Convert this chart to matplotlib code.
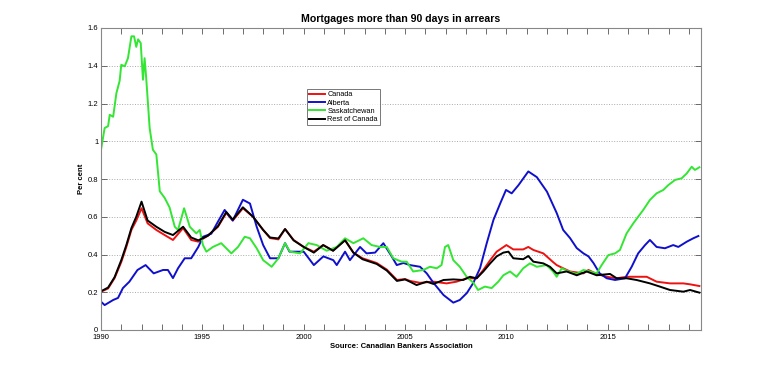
import matplotlib
matplotlib.use("Agg")
import matplotlib.pyplot as plt
import numpy as np

plt.rcParams['font.family'] = ['Liberation Sans', 'DejaVu Sans']

title = "Mortgages more than 90 days in arrears"
ylabel = "Per cent"
xlabel = "Source: Canadian Bankers Association"
series_names = ["Canada", "Alberta", "Saskatchewan", "Rest of Canada"]

canada_years = [1990.0, 1990.35, 1990.67, 1991.0, 1991.25, 1991.5, 1991.74, 1992.0, 1992.3, 1992.73,
                1993.14, 1993.55, 1994.05, 1994.45, 1994.8, 1995.28, 1995.77, 1996.18, 1996.5, 1997.0,
                1997.5, 1998.0, 1998.34, 1998.75, 1999.08, 1999.5, 2000.0, 2000.5, 2000.96, 2001.45,
                2002.04, 2002.45, 2002.9, 2003.6, 2004.1, 2004.6, 2005.0, 2005.24, 2005.74, 2006.4,
                2007.05, 2007.54, 2008.04, 2008.53, 2008.86, 2009.2, 2009.52, 2010.0, 2010.34, 2010.83,
                2011.08, 2011.33, 2011.82, 2012.3, 2012.48, 2012.8, 2013.14, 2013.8, 2014.05, 2014.45,
                2014.95, 2015.44, 2015.93, 2016.42, 2016.92, 2017.41, 2018.07, 2018.73, 2019.06, 2019.52]
canada_vals = [0.203, 0.22, 0.275, 0.36, 0.44, 0.53, 0.58, 0.645, 0.565, 0.53,
               0.503, 0.477, 0.54, 0.477, 0.468, 0.50, 0.547, 0.62, 0.58, 0.645,
               0.60, 0.53, 0.487, 0.48, 0.535, 0.477, 0.44, 0.415, 0.45, 0.42,
               0.477, 0.41, 0.38, 0.355, 0.32, 0.265, 0.27, 0.26, 0.25, 0.256,
               0.247, 0.256, 0.274, 0.274, 0.318, 0.37, 0.415, 0.45, 0.427, 0.427,
               0.44, 0.424, 0.406, 0.36, 0.344, 0.327, 0.31, 0.30, 0.318, 0.297,
               0.282, 0.274, 0.282, 0.282, 0.282, 0.256, 0.247, 0.247, 0.242, 0.233]

alberta_years = [1990.0, 1990.18, 1990.6, 1990.84, 1991.08, 1991.4, 1991.8, 1992.2, 1992.6, 1993.06,
                 1993.3, 1993.55, 1993.8, 1994.13, 1994.45, 1994.8, 1995.03, 1995.44, 1995.77, 1996.1,
                 1996.5, 1997.0, 1997.35, 1997.68, 1998.0, 1998.34, 1998.75, 1999.08, 1999.3, 2000.0,
                 2000.5, 2000.97, 2001.46, 2001.63, 2002.04, 2002.28, 2002.78, 2003.1, 2003.52, 2003.93,
                 2004.34, 2004.59, 2004.92, 2005.24, 2005.74, 2006.07, 2006.4, 2006.9, 2007.38, 2007.7,
                 2008.05, 2008.37, 2008.7, 2009.03, 2009.36, 2009.7, 2009.98, 2010.26, 2010.6, 2011.08,
                 2011.5, 2012.0, 2012.48, 2012.8, 2013.14, 2013.47, 2013.8, 2014.05, 2014.3, 2014.6,
                 2014.95, 2015.36, 2015.85, 2016.18, 2016.5, 2016.84, 2017.08, 2017.41, 2017.82, 2018.23,
                 2018.48, 2018.9, 2019.22, 2019.47]
alberta_vals = [0.15, 0.132, 0.159, 0.17, 0.222, 0.256, 0.318, 0.344, 0.30, 0.318,
                0.318, 0.275, 0.327, 0.38, 0.38, 0.44, 0.494, 0.51, 0.574, 0.636,
                0.58, 0.69, 0.67, 0.547, 0.45, 0.38, 0.38, 0.46, 0.415, 0.415,
                0.344, 0.39, 0.37, 0.344, 0.415, 0.37, 0.44, 0.406, 0.41, 0.46,
                0.39, 0.344, 0.355, 0.344, 0.335, 0.30, 0.25, 0.185, 0.145, 0.159,
                0.196, 0.25, 0.328, 0.46, 0.583, 0.672, 0.742, 0.724, 0.768, 0.84,
                0.81, 0.733, 0.62, 0.53, 0.487, 0.434, 0.406, 0.39, 0.354, 0.30,
                0.274, 0.265, 0.274, 0.335, 0.406, 0.45, 0.477, 0.44, 0.433, 0.45,
                0.44, 0.468, 0.486, 0.498]

sask_years = [1990.0, 1990.18, 1990.35, 1990.43, 1990.6, 1990.76, 1990.92, 1991.0, 1991.17, 1991.33,
              1991.5, 1991.63, 1991.74, 1991.83, 1991.96, 1992.07, 1992.15, 1992.23, 1992.4, 1992.56,
              1992.73, 1992.9, 1993.14, 1993.38, 1993.64, 1993.8, 1994.1, 1994.38, 1994.7, 1994.87,
              1995.03, 1995.2, 1995.52, 1995.93, 1996.18, 1996.43, 1996.76, 1997.09, 1997.35, 1997.68,
              1998.0, 1998.42, 1998.75, 1999.08, 1999.32, 1999.82, 2000.23, 2000.64, 2001.13, 2001.63,
              2002.04, 2002.45, 2002.94, 2003.35, 2003.76, 2004.1, 2004.42, 2004.83, 2005.08, 2005.4,
              2005.9, 2006.23, 2006.56, 2006.8, 2006.97, 2007.13, 2007.38, 2007.7, 2008.04, 2008.37,
              2008.6, 2008.94, 2009.27, 2009.6, 2009.85, 2010.18, 2010.5, 2010.83, 2011.16, 2011.5,
              2011.98, 2012.3, 2012.48, 2012.73, 2013.06, 2013.47, 2013.8, 2014.12, 2014.45, 2014.7,
              2015.03, 2015.36, 2015.6, 2015.93, 2016.26, 2016.5, 2016.75, 2017.08, 2017.41, 2017.74,
              2017.99, 2018.32, 2018.65, 2018.9, 2019.14, 2019.3, 2019.52]
sask_vals = [0.955, 1.07, 1.08, 1.14, 1.13, 1.255, 1.32, 1.405, 1.397, 1.44,
             1.556, 1.556, 1.50, 1.54, 1.52, 1.326, 1.44, 1.335, 1.07, 0.955,
             0.93, 0.735, 0.70, 0.65, 0.547, 0.53, 0.645, 0.547, 0.512, 0.53,
             0.45, 0.415, 0.44, 0.46, 0.433, 0.406, 0.44, 0.494, 0.486, 0.433,
             0.37, 0.335, 0.38, 0.46, 0.415, 0.406, 0.46, 0.45, 0.42, 0.44,
             0.486, 0.46, 0.486, 0.45, 0.44, 0.44, 0.38, 0.362, 0.362, 0.31,
             0.318, 0.335, 0.327, 0.344, 0.44, 0.45, 0.37, 0.335, 0.282, 0.25,
             0.212, 0.23, 0.222, 0.256, 0.29, 0.31, 0.282, 0.327, 0.353, 0.335,
             0.344, 0.31, 0.282, 0.327, 0.31, 0.297, 0.318, 0.31, 0.30, 0.344,
             0.397, 0.406, 0.424, 0.512, 0.565, 0.60, 0.636, 0.689, 0.724, 0.742,
             0.768, 0.795, 0.804, 0.83, 0.865, 0.848, 0.862]

rest_years = [1990.0, 1990.35, 1990.67, 1991.0, 1991.25, 1991.5, 1991.74, 1992.0, 1992.3, 1992.73,
              1993.14, 1993.55, 1994.05, 1994.45, 1994.8, 1995.28, 1995.77, 1996.18, 1996.5, 1997.0,
              1997.5, 1998.0, 1998.34, 1998.75, 1999.08, 1999.5, 2000.0, 2000.5, 2000.96, 2001.45,
              2002.04, 2002.45, 2002.9, 2003.6, 2004.1, 2004.6, 2005.0, 2005.24, 2005.57, 2006.07,
              2006.4, 2006.9, 2007.38, 2007.87, 2008.2, 2008.53, 2008.86, 2009.2, 2009.52, 2009.85,
              2010.1, 2010.34, 2010.83, 2011.08, 2011.33, 2011.82, 2012.15, 2012.48, 2012.97, 2013.47,
              2013.96, 2014.45, 2015.11, 2015.44, 2015.93, 2016.42, 2017.08, 2017.57, 2018.07, 2018.73,
              2019.06, 2019.52]
rest_vals = [0.205, 0.225, 0.28, 0.37, 0.45, 0.54, 0.60, 0.68, 0.58, 0.547,
             0.52, 0.503, 0.547, 0.49, 0.475, 0.50, 0.55, 0.625, 0.585, 0.65,
             0.60, 0.53, 0.49, 0.485, 0.535, 0.475, 0.44, 0.41, 0.45, 0.42,
             0.475, 0.41, 0.375, 0.35, 0.315, 0.26, 0.268, 0.256, 0.238, 0.256,
             0.244, 0.265, 0.268, 0.265, 0.282, 0.274, 0.31, 0.353, 0.39, 0.41,
             0.415, 0.38, 0.375, 0.392, 0.362, 0.353, 0.335, 0.30, 0.31, 0.29,
             0.31, 0.29, 0.297, 0.274, 0.274, 0.265, 0.247, 0.23, 0.212, 0.203,
             0.212, 0.198]

y_ticks = [0, 0.2, 0.4, 0.6, 0.8, 1.0, 1.2, 1.4, 1.6]
y_tick_labels = ["0", "0.2", "0.4", "0.6", "0.8", "1", "1.2", "1.4", "1.6"]
x_label_years = [1990, 1995, 2000, 2005, 2010, 2015]

fig = plt.figure(figsize=(7.75, 3.71), dpi=100)
ax = fig.add_axes([101/775, 1-330/371, 600/775, 302/371])

colors = ["#ee1111", "#1010cc", "#33e633", "#000000"]
data = [(canada_years, canada_vals), (alberta_years, alberta_vals),
        (sask_years, sask_vals), (rest_years, rest_vals)]
for (xs, ys), name, c in zip(data, series_names, colors):
    ax.plot(xs, ys, color=c, lw=1.4, label=name)

ax.set_xlim(1990, 2019.6)
ax.set_ylim(0, 1.6)
yr = list(range(1990, 2020))
ax.set_xticks(yr)
ax.set_xticklabels([str(y) if y in x_label_years else "" for y in yr])
ax.set_yticks(y_ticks)
ax.set_yticklabels(y_tick_labels)
ax.tick_params(direction='in', length=4, width=0.6, labelsize=5.5, top=True, right=True,
               color='#555555', pad=2)
ax.tick_params(axis='x', pad=3)
ax.grid(axis='y', linestyle=':', color='#aaaaaa', lw=0.7)
for s in ax.spines.values():
    s.set_color('#888888')
    s.set_linewidth(0.8)

ax.set_title(title, fontsize=7.6, fontweight='bold', pad=4)
ax.set_ylabel(ylabel, fontsize=5.5, fontweight='bold', labelpad=2)
ax.set_xlabel(xlabel, fontsize=5.5, fontweight='bold', labelpad=1)

leg = ax.legend(loc='upper left', bbox_to_anchor=(0.343, 0.798), fontsize=5.3,
                frameon=True, fancybox=False, handlelength=2.2, handletextpad=0.3,
                borderpad=0.3, labelspacing=0.15, borderaxespad=0)
leg.get_frame().set_edgecolor('#555555')
leg.get_frame().set_linewidth(0.7)

fig.savefig("out.png", dpi=100)
